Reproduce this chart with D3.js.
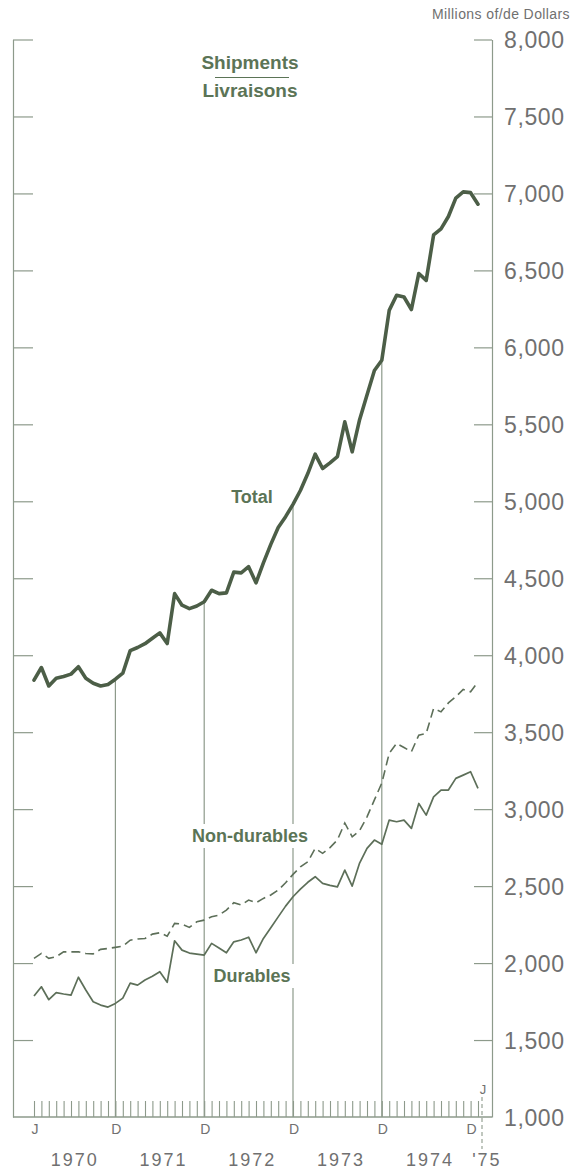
<!DOCTYPE html>
<html><head><meta charset="utf-8">
<script src="https://cdn.jsdelivr.net/npm/d3@7/dist/d3.min.js"></script>
<style>
html,body{margin:0;padding:0;background:#fff}
svg{display:block}
</style>
</head><body>
<svg id="chart" width="573" height="1174"></svg>
<script>
// ---- data (millions of dollars, monthly Jan 1970 .. Jan 1975) ----
const monthIndex = d3.range(61);
const total = [3838,3920,3800,3850,3862,3877,3925,3850,3818,3800,3810,3844,
  3883,4030,4050,4075,4110,4145,4076,4400,4325,4303,4320,4347,
  4422,4400,4405,4540,4535,4575,4470,4600,4720,4830,4900,4980,
  5070,5180,5306,5213,5250,5290,5516,5321,5530,5690,5850,5916,
  6240,6338,6327,6246,6480,6435,6730,6770,6850,6970,7010,7005,
  6930];
const durables = [1786,1846,1762,1808,1799,1792,1908,1825,1749,1727,1714,1738,
  1772,1870,1857,1890,1915,1944,1875,2145,2084,2065,2058,2052,
  2128,2098,2067,2138,2150,2168,2067,2160,2230,2300,2370,2431,
  2480,2525,2561,2518,2505,2495,2604,2500,2650,2745,2799,2772,
  2929,2918,2929,2875,3037,2961,3080,3124,3124,3200,3221,3243,
  3135];
const nonDurables = [2031,2063,2031,2041,2073,2073,2073,2062,2060,2089,2095,2102,
  2110,2149,2156,2160,2188,2197,2175,2258,2253,2232,2268,2279,
  2301,2312,2344,2392,2377,2409,2392,2420,2442,2474,2522,2576,
  2625,2658,2745,2713,2750,2800,2910,2820,2860,2950,3060,3170,
  3362,3427,3400,3373,3481,3492,3654,3632,3690,3730,3778,3762,
  3827];
const yTickValues = [1000,1500,2000,2500,3000,3500,4000,4500,5000,5500,6000,6500,7000,7500,8000];
const decemberIdx = [11,23,35,47];
const monthLetters = [{i:0,t:"J"},{i:11,t:"D"},{i:23,t:"D"},{i:35,t:"D"},{i:47,t:"D"},{i:59,t:"D"}];
const yearLabels = [{c:5.5,t:"1970"},{c:17.5,t:"1971"},{c:29.5,t:"1972"},{c:41.5,t:"1973"},{c:53.5,t:"1974"},{c:61.2,t:"'75"}];

// ---- scales ----
const svg = d3.select("#chart");
const x = d3.scaleLinear().domain([0,60]).range([34,478]);
const y = d3.scaleLinear().domain([1000,8000]).range([1117,39.5]);
const leftX = 13, rightX = 492;

const axisCol = "#8d9a8b", lineCol = "#4c5e47", thinCol = "#5d6f59",
      labelCol = "#5b7456", tickTextCol = "#707070";

// frame left (bracket) with ticks
const gl = svg.append("g").attr("transform",`translate(${leftX},0)`)
  .call(d3.axisLeft(y).tickValues(yTickValues.filter(v=>v>1000)).tickSizeInner(-20).tickSizeOuter(0).tickFormat(""));
gl.selectAll("line").attr("stroke",axisCol).attr("stroke-width",1.2);
gl.select(".domain").attr("stroke",axisCol).attr("stroke-width",1.2);

// right axis with labels
const gr = svg.append("g").attr("transform",`translate(${rightX},0)`)
  .call(d3.axisRight(y).tickValues(yTickValues).tickSizeInner(-18).tickSizeOuter(0).tickPadding(12)
    .tickFormat(d3.format(",")));
gr.select(".domain").attr("stroke",axisCol).attr("stroke-width",1.2);
gr.selectAll(".tick line").attr("stroke",axisCol).attr("stroke-width",1.2)
  .filter(d=>d===1000).remove();
gr.selectAll("text").attr("fill",tickTextCol).attr("font-family","Liberation Sans, Arial, sans-serif")
  .attr("font-size",23).attr("letter-spacing",0.6).attr("dy","0.36em");

// bottom axis with monthly ticks
const gb = svg.append("g").attr("transform",`translate(0,${y(1000)})`)
  .call(d3.axisBottom(x).tickValues(monthIndex).tickSizeInner(-16).tickSizeOuter(0).tickFormat(""));
gb.select(".domain").remove();
gb.selectAll(".tick line").attr("stroke",axisCol).attr("stroke-width",1.1);
svg.append("line").attr("x1",leftX).attr("x2",rightX).attr("y1",y(1000)).attr("y2",y(1000))
  .attr("stroke",axisCol).attr("stroke-width",1.3);

// December drop lines to the total curve
svg.append("g").selectAll("line").data(decemberIdx).join("line")
  .attr("x1",d=>x(d)).attr("x2",d=>x(d)).attr("y1",y(1000)).attr("y2",d=>y(total[d]))
  .attr("stroke",axisCol).attr("stroke-width",1.2);

// J '75 marker
svg.append("line").attr("x1",x(60)+4).attr("x2",x(60)+4).attr("y1",y(1000)-20).attr("y2",y(1000)+32)
  .attr("stroke",axisCol).attr("stroke-width",1.1).attr("stroke-dasharray","4,3");
svg.append("text").attr("x",x(60)+5).attr("y",y(1000)-23).attr("text-anchor","middle")
  .attr("font-family","Liberation Sans, Arial, sans-serif").attr("font-size",13).attr("fill",tickTextCol).text("J");

// month letters & years
svg.append("g").selectAll("text").data(monthLetters).join("text")
  .attr("x",d=>x(d.i)+1).attr("y",1134).attr("text-anchor","middle")
  .attr("font-family","Liberation Sans, Arial, sans-serif").attr("font-size",14).attr("fill",tickTextCol)
  .text(d=>d.t);
svg.append("g").selectAll("text").data(yearLabels).join("text")
  .attr("x",d=>x(d.c)).attr("y",1166).attr("text-anchor","middle")
  .attr("font-family","Liberation Sans, Arial, sans-serif").attr("font-size",18).attr("letter-spacing",2)
  .attr("fill",tickTextCol).text(d=>d.t);

// unit label
svg.append("text").attr("x",570).attr("y",19).attr("text-anchor","end")
  .attr("font-family","Liberation Sans, Arial, sans-serif").attr("font-size",14).attr("letter-spacing",0.4)
  .attr("fill",tickTextCol).text("Millions of/de Dollars");

// series lines
const line = d3.line().x((d,i)=>x(i)).y(d=>y(d));
svg.append("path").datum(nonDurables).attr("d",line).attr("fill","none")
  .attr("stroke",thinCol).attr("stroke-width",1.6).attr("stroke-dasharray","9,5");
svg.append("path").datum(durables).attr("d",line).attr("fill","none")
  .attr("stroke",thinCol).attr("stroke-width",1.7).attr("stroke-linejoin","round");
svg.append("path").datum(total).attr("d",line).attr("fill","none")
  .attr("stroke",lineCol).attr("stroke-width",3.6).attr("stroke-linejoin","round").attr("stroke-linecap","round");

// labels with white knock-out backgrounds
function label(txt, cx, by, size, pad){
  const g = svg.append("g");
  const t = g.append("text").attr("x",cx).attr("y",by).attr("text-anchor","middle")
    .attr("font-family","Liberation Sans, Arial, sans-serif").attr("font-weight","bold")
    .attr("font-size",size).attr("fill",labelCol).text(txt);
  const b = t.node().getBBox();
  g.insert("rect","text").attr("x",b.x-pad).attr("y",b.y-2).attr("width",b.width+2*pad).attr("height",b.height+4).attr("fill","#fff");
}
label("Shipments",250,69,19,4);
label("Livraisons",250,97,19,4);
svg.append("line").attr("x1",215).attr("x2",289).attr("y1",77.5).attr("y2",77.5).attr("stroke",labelCol).attr("stroke-width",1);
label("Total",252,503,18,6);
label("Non-durables",250,842,18,8);
label("Durables",252,982,18,8);
</script>
</body></html>
